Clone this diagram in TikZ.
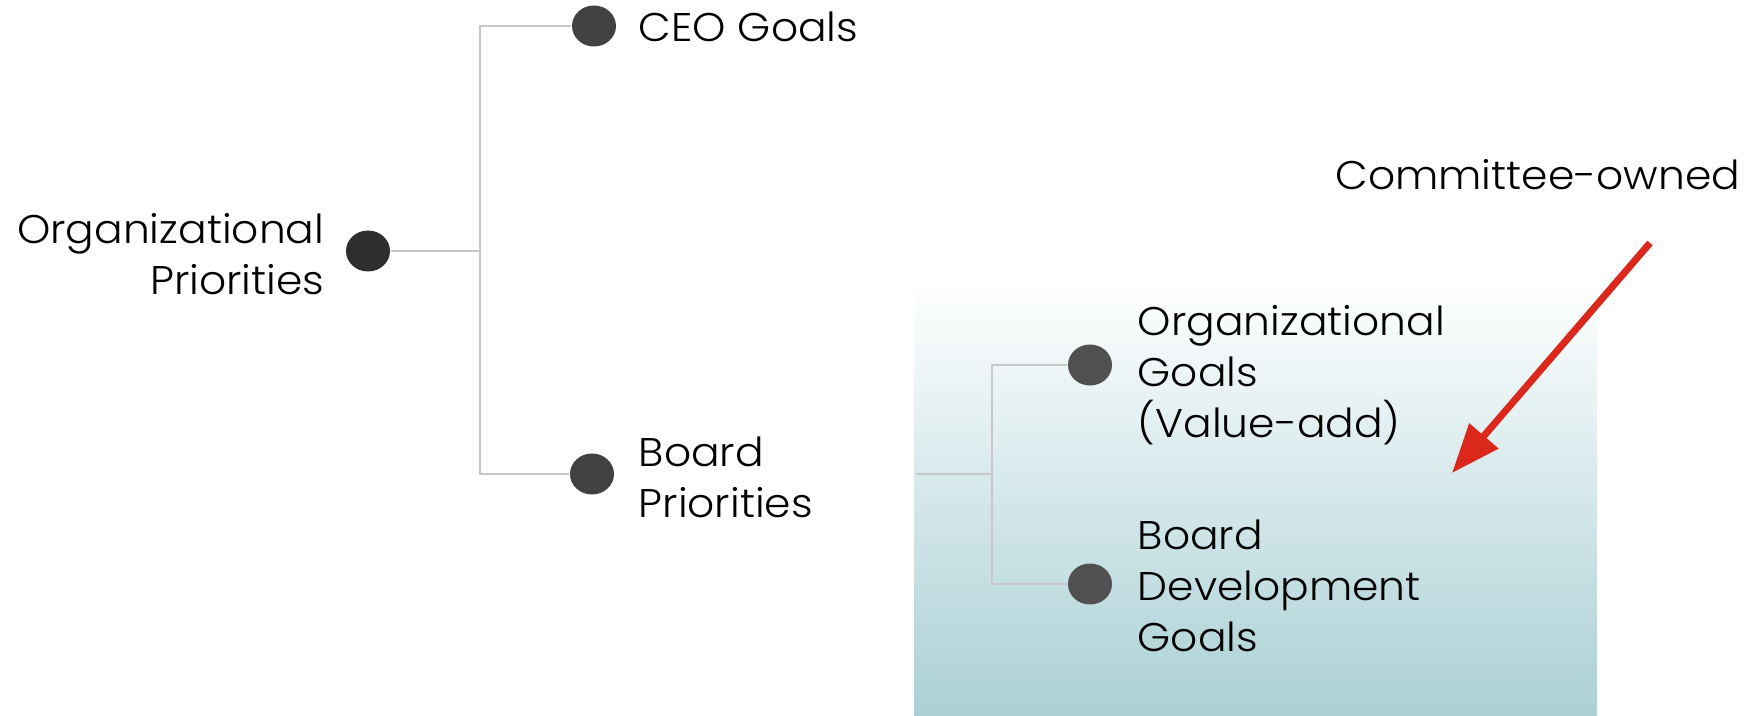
\documentclass[tikz,border=0pt]{standalone}
\usepackage{fontspec}
\setmainfont{Poppins Light}[FakeStretch=1.06]
\usetikzlibrary{arrows.meta,shapes.geometric}
\definecolor{dotdark}{HTML}{2E2E2E}
\definecolor{dotmid}{HTML}{424242}
\definecolor{dotlight}{HTML}{505050}
\definecolor{branchgray}{HTML}{C8C8C8}
\definecolor{boxteal}{HTML}{AAD0D5}
\definecolor{calloutred}{HTML}{DA291C}
\tikzset{%
  tipR/.tip={Triangle[length=12.25pt,width=9.25pt]},
  bullet/.style={ellipse,fill=#1,minimum width=11pt,minimum height=10.25pt,inner sep=0pt},
  branch/.style={draw=branchgray,line width=0.5pt},
  itemtext/.style={font=\fontsize{10}{12.75}\selectfont,inner sep=0pt,align=left}
}

\begin{document}
\begin{tikzpicture}[x=0.25pt,y=-0.25pt]
\useasboundingbox (0,0) rectangle (1748,716);

% shaded panel behind the committee branch
\shade[top color=white,bottom color=boxteal] (914,279) rectangle (1597,716);

% top level
\node[bullet=dotdark] (org) at (368,251) {};
\node[bullet=dotmid] (ceo) at (594,26) {};
\node[bullet=dotmid] (board) at (592,474) {};
\node[itemtext,align=right,anchor=east] (org-txt) at (325,254) {Organizational\\Priorities};
\node[itemtext,anchor=west] (ceo-txt) at (638,27) {CEO Goals};
\node[itemtext,anchor=west] (board-txt) at (638,477) {Board\\Priorities};

\coordinate (fork) at (480,251);
\draw[branch] (org) -- (fork) |- (ceo);
\draw[branch] (fork) |- (board);

% committee branch
\node[bullet=dotlight] (orggoals) at (1090,365) {};
\node[bullet=dotlight] (devgoals) at (1090,584) {};
\node[itemtext,anchor=west] (orggoals-txt) at (1137,375) {Organizational\\Goals\\(Value-add)};
\node[itemtext,anchor=west] (devgoals-txt) at (1137,586) {Board\\Development\\Goals};

\coordinate (subin) at (916,474);
\coordinate (subfork) at (992,474);
\draw[branch] (subin) -- (subfork) |- (orggoals);
\draw[branch] (subfork) |- (devgoals);

% callout
\node[itemtext,anchor=east] (owned-txt) at (1741,175) {Committee-owned};
\coordinate (callout-tail) at (1650,243);
\coordinate (callout-tip) at (1452,473);
\draw[calloutred,line width=1.75pt,-tipR] (callout-tail) -- (callout-tip);
\end{tikzpicture}
\end{document}
